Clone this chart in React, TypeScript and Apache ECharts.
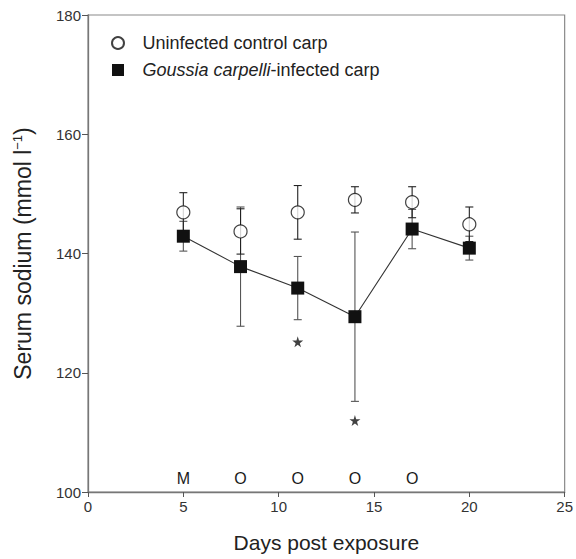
import React, { useEffect, useRef } from "react";
import * as echarts from "echarts";

const days = [5, 8, 11, 14, 17, 20];
const controlMean = [146.9, 143.7, 146.9, 149.0, 148.6, 144.9];
const controlErr = [3.3, 3.8, 4.5, 2.2, 2.6, 2.9];
const infectedMean = [142.9, 137.8, 134.2, 129.4, 144.1, 140.9];
const infectedErr = [2.5, 10.0, 5.3, 14.2, 3.3, 2.0];
const starDays = [11, 14];
const starValues = [125.2, 112.0];
const markerDays = [5, 8, 11, 14, 17];
const markerLabels = ["M", "O", "O", "O", "O"];
const markerLevel = 102.3;
const xTicks = [0, 5, 10, 15, 20, 25];
const yTicks = [100, 120, 140, 160, 180];

const CONTROL = "Uninfected control carp";
const INFECTED = "Goussia carpelli-infected carp";
const FONT = "'Liberation Sans', Arial, Helvetica, sans-serif";
const SQUARE = "path://M0,0 L10,0 L10,10 L0,10 Z";

function errorSeries(means: number[], errs: number[], color: string) {
  return {
    type: "custom",
    z: 2,
    silent: true,
    encode: { x: 0, y: [1, 2] },
    data: days.map((d, i) => [d, means[i] - errs[i], means[i] + errs[i]]),
    renderItem: (params: any, api: any) => {
      const x = api.value(0);
      const lo = api.coord([x, api.value(1)]);
      const hi = api.coord([x, api.value(2)]);
      const w = 4;
      const st = { stroke: color, lineWidth: 1.1 };
      return {
        type: "group",
        children: [
          { type: "line", shape: { x1: lo[0], y1: lo[1], x2: hi[0], y2: hi[1] }, style: st },
          { type: "line", shape: { x1: lo[0] - w, y1: lo[1], x2: lo[0] + w, y2: lo[1] }, style: st },
          { type: "line", shape: { x1: hi[0] - w, y1: hi[1], x2: hi[0] + w, y2: hi[1] }, style: st },
        ],
      };
    },
  };
}

export default function App() {
  const ref = useRef<HTMLDivElement>(null);
  useEffect(() => {
    if (!ref.current) return;
    const chart = echarts.init(ref.current, undefined, { renderer: "svg" });
    chart.setOption({
      animation: false,
      backgroundColor: "#ffffff",
      textStyle: { fontFamily: FONT },
      grid: {
        left: 88,
        right: 9,
        top: 15,
        bottom: 67,
        show: true,
        borderColor: "#8a8a8a",
        borderWidth: 1.2,
        backgroundColor: "transparent",
      },
      legend: {
        orient: "vertical",
        left: 106,
        top: 29,
        itemWidth: 39,
        itemHeight: 12,
        itemGap: 9,
        data: [
          { name: CONTROL, icon: "circle" },
          { name: INFECTED, icon: SQUARE, itemStyle: { color: "#111" } },
        ],
        formatter: (name: string) =>
          name === INFECTED ? "{i|Goussia carpelli}{n|-infected carp}" : "{n|" + name + "}",
        textStyle: {
          fontSize: 18,
          color: "#222",
          fontFamily: FONT,
          rich: {
            i: { fontStyle: "italic", fontSize: 18, color: "#222", fontFamily: FONT },
            n: { fontSize: 18, color: "#222", fontFamily: FONT },
          },
        },
      },
      xAxis: {
        type: "value",
        min: 0,
        max: 25,
        interval: 5,
        name: "Days post exposure",
        nameLocation: "middle",
        nameGap: 40,
        nameTextStyle: { fontSize: 21, color: "#222", fontFamily: FONT },
        axisLine: { lineStyle: { color: "#777", width: 1.3 } },
        axisTick: { length: 5, lineStyle: { color: "#555" } },
        axisLabel: {
          fontSize: 15,
          color: "#333",
          margin: 7,
          formatter: (v: number) => (xTicks.includes(v) ? String(v) : ""),
        },
        splitLine: { show: false },
      },
      yAxis: {
        type: "value",
        min: 100,
        max: 180,
        interval: 20,
        name: "{a|Serum sodium (mmol l}{s|\u22121}{a|)}",
        nameLocation: "middle",
        nameGap: 54,
        nameTextStyle: {
          fontSize: 23,
          color: "#222",
          fontFamily: FONT,
          rich: {
            a: { fontSize: 23, color: "#222", fontFamily: FONT },
            s: { fontSize: 13, color: "#222", fontFamily: FONT, padding: [0, 0, 10, 0] },
          },
        },
        axisLine: { lineStyle: { color: "#777", width: 1.3 } },
        axisTick: { length: 6, lineStyle: { color: "#555" } },
        axisLabel: {
          fontSize: 15,
          color: "#333",
          margin: 7,
          formatter: (v: number) => (yTicks.includes(v) ? String(v) : ""),
        },
        splitLine: { show: false },
      },
      series: [
        errorSeries(infectedMean, infectedErr, "#555"),
        errorSeries(controlMean, controlErr, "#222"),
        {
          name: INFECTED,
          type: "line",
          z: 3,
          data: days.map((d, i) => [d, infectedMean[i]]),
          symbol: "rect",
          symbolSize: 13,
          itemStyle: { color: "#111" },
          lineStyle: { color: "#333", width: 1.1 },
        },
        {
          name: CONTROL,
          type: "scatter",
          z: 4,
          data: days.map((d, i) => [d, controlMean[i]]),
          symbol: "circle",
          symbolSize: 13,
          itemStyle: { color: "#ffffff", borderColor: "#111", borderWidth: 1.2 },
        },
        {
          name: "significance",
          type: "scatter",
          z: 4,
          silent: true,
          data: starDays.map((d, i) => [d, starValues[i]]),
          symbol: "path://M50,0 L61,35 L98,35 L68,57 L79,91 L50,70 L21,91 L32,57 L2,35 L39,35 Z",
          symbolSize: 11,
          itemStyle: { color: "#111" },
        },
        {
          name: "markers",
          type: "scatter",
          z: 4,
          silent: true,
          data: markerDays.map((d, i) => ({ value: [d, markerLevel], label: { formatter: markerLabels[i] } })),
          symbolSize: 1,
          itemStyle: { color: "rgba(0,0,0,0)" },
          label: {
            show: true,
            position: "inside",
            fontSize: 16,
            color: "#1a1a1a",
            textBorderWidth: 0,
            opacity: 1,
            fontFamily: FONT,
          },
        },
      ],
    });
    return () => chart.dispose();
  }, []);
  return (
    <div
      ref={ref}
      style={{ position: "absolute", left: 0, top: 0, width: 576, height: 559 }}
    />
  );
}
